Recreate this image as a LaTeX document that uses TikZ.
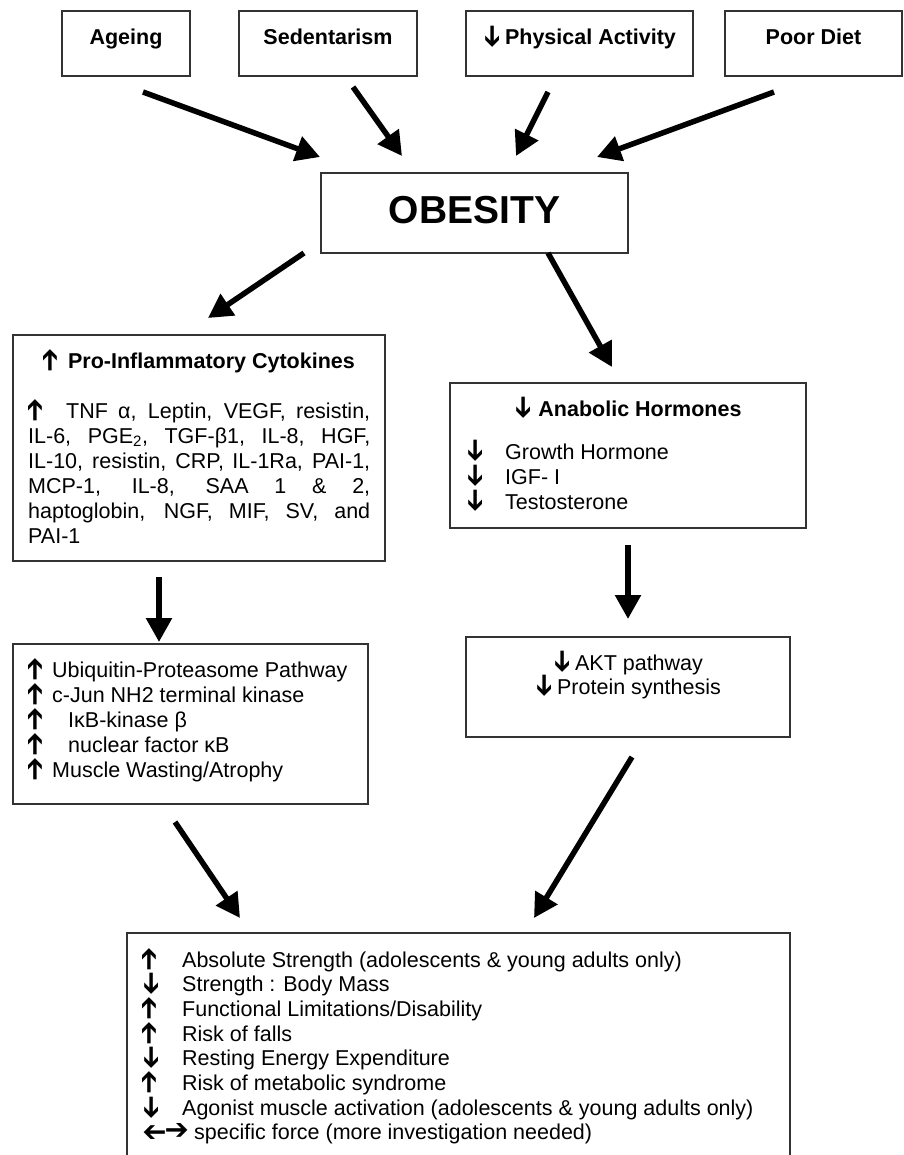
\documentclass[tikz,border=0pt]{standalone}
\usepackage{fontspec}
\usepackage{graphicx}
\setmainfont{Liberation Sans}
\newfontfamily\symf{DejaVu Sans}
\usetikzlibrary{arrows.meta}
\newcommand\ArrG[1]{\rotatebox[origin=c]{#1}{\symf\bfseries\fontsize{29}{25}\selectfont ➔}}
\newcommand\UpA{\ArrG{90}}
\newcommand\DnA{\ArrG{-90}}
\newcommand\LtA{\ArrG{180}}
\newcommand\RtA{\ArrG{0}}
\begin{document}
\begin{tikzpicture}[x=1pt,y=-1pt,
  box/.style={draw=black!80, line width=1.4pt, inner sep=0pt, rectangle},
  topbox/.style={box, font=\bfseries\fontsize{21.5}{25}\selectfont, text height=34pt, text depth=31pt, minimum height=65pt},
  txt/.style={inner sep=0pt, font=\fontsize{21.5}{25}\selectfont},
  bigarrow/.style={line width=5.5pt, -{Triangle[width=25pt,length=24pt]}},
]
\fill[white] (0,0) rectangle (903,1155);
\useasboundingbox (0,0) rectangle (903,1155);

% top boxes
\node[topbox, minimum width=128pt] (ageing) at (126,43.5) {Ageing};
\node[topbox, minimum width=178pt] (sed) at (328,43.5) {Sedentarism};
\node[topbox, minimum width=227pt] (phys) at (579.5,43.5) {\DnA\hspace{6pt}Physical Activity};
\node[topbox, minimum width=177pt] (diet) at (813.5,43.5) {Poor Diet};

% obesity
\node[box, minimum width=307pt, text height=51pt, text depth=29pt, font=\bfseries\fontsize{39}{40}\selectfont] (obesity) at (474.5,213) {OBESITY};

% left box 1
\node[box, minimum width=372pt, minimum height=226pt] (pro) at (199,448) {};
\node[txt, anchor=base] (protitle) at (199,368) {\UpA\hspace{9pt}\textbf{Pro-Inflammatory Cytokines}};
\node[txt, anchor=base west] (probody) at (28,418) {\parbox[t]{342pt}{%
\makebox[342pt][s]{\UpA\hspace{22pt}TNF α, Leptin, VEGF, resistin,}\\
\makebox[342pt][s]{IL-6, PGE\textsubscript{2}, TGF-β1, IL-8, HGF,}\\
\makebox[342pt][s]{IL-10, resistin, CRP, IL-1Ra, PAI-1,}\\
\makebox[342pt][s]{MCP-1, IL-8, SAA 1 \& 2,}\\
\makebox[342pt][s]{haptoglobin, NGF, MIF, SV, and}\\
PAI-1}};

% left box 2
\node[box, minimum width=355pt, minimum height=160pt] (ubi) at (190.5,724) {};
\node[txt, anchor=base west] (ubitext) at (28,677) {\parbox[t]{330pt}{%
\makebox[24pt][l]{\UpA}Ubiquitin-Proteasome Pathway\\
\makebox[24pt][l]{\UpA}c-Jun NH2 terminal kinase\\
\makebox[40pt][l]{\UpA}IκB-kinase β\\
\makebox[40pt][l]{\UpA}nuclear factor κB\\
\makebox[24pt][l]{\UpA}Muscle Wasting/Atrophy}};

% right box 1
\node[box, minimum width=356pt, minimum height=145pt] (ana) at (628,455.5) {};
\node[txt, anchor=base] (anatitle) at (628,416) {\DnA\hspace{8pt}\textbf{Anabolic Hormones}};
\node[txt, anchor=base west] (anatext) at (466,459) {\parbox[t]{320pt}{%
\makebox[39pt][l]{\DnA}Growth Hormone\\
\makebox[39pt][l]{\DnA}IGF- I\\
\makebox[39pt][l]{\DnA}Testosterone}};

% right box 2
\node[box, minimum width=324pt, minimum height=100pt] (akt) at (628,687) {};
\node[txt, anchor=base] (akt1) at (628,670) {\DnA\hspace{6pt}AKT pathway};
\node[txt, anchor=base] (akt2) at (628,694) {\DnA\hspace{6pt}Protein synthesis};

% bottom box (open at the bottom edge of the picture)
\node[box, minimum width=663pt, minimum height=226pt] (out) at (458.5,1046) {};
\node[txt, anchor=base west, font=\fontsize{21.5}{24.7}\selectfont] (outtext) at (142,967) {\parbox[t]{640pt}{%
\makebox[40pt][l]{\UpA}Absolute Strength (adolescents \& young adults only)\\
\makebox[40pt][l]{\DnA}Strength : Body Mass\\
\makebox[40pt][l]{\UpA}Functional Limitations/Disability\\
\makebox[40pt][l]{\UpA}Risk of falls\\
\makebox[40pt][l]{\DnA}Resting Energy Expenditure\\
\makebox[40pt][l]{\UpA}Risk of metabolic syndrome\\
\makebox[40pt][l]{\DnA}Agonist muscle activation (adolescents \& young adults only)\\
\makebox[52pt][l]{\LtA\hspace{-2pt}\RtA}specific force (more investigation needed)}};

% connector end points
\coordinate (a1s) at (143,92);  \coordinate (a1e) at (320,157);
\coordinate (a2s) at (353,87);  \coordinate (a2e) at (402,156);
\coordinate (a3s) at (548,92);  \coordinate (a3e) at (516,156);
\coordinate (a4s) at (774,92);  \coordinate (a4e) at (597,157);
\coordinate (b1s) at (304,253); \coordinate (b1e) at (208,318);
\coordinate (b2s) at (548,253); \coordinate (b2e) at (612,367);
\coordinate (c1s) at (159,577); \coordinate (c1e) at (159,642);
\coordinate (c2s) at (628,545); \coordinate (c2e) at (628,619);
\coordinate (d1s) at (175,822); \coordinate (d1e) at (240,918);
\coordinate (d2s) at (632,757); \coordinate (d2e) at (534,918);

\draw[bigarrow] (a1s) -- (a1e);
\draw[bigarrow] (a2s) -- (a2e);
\draw[bigarrow] (a3s) -- (a3e);
\draw[bigarrow] (a4s) -- (a4e);
\draw[bigarrow] (b1s) -- (b1e);
\draw[bigarrow] (b2s) -- (b2e);
\draw[bigarrow] (c1s) -- (c1e);
\draw[bigarrow] (c2s) -- (c2e);
\draw[bigarrow] (d1s) -- (d1e);
\draw[bigarrow] (d2s) -- (d2e);
\end{tikzpicture}
\end{document}
